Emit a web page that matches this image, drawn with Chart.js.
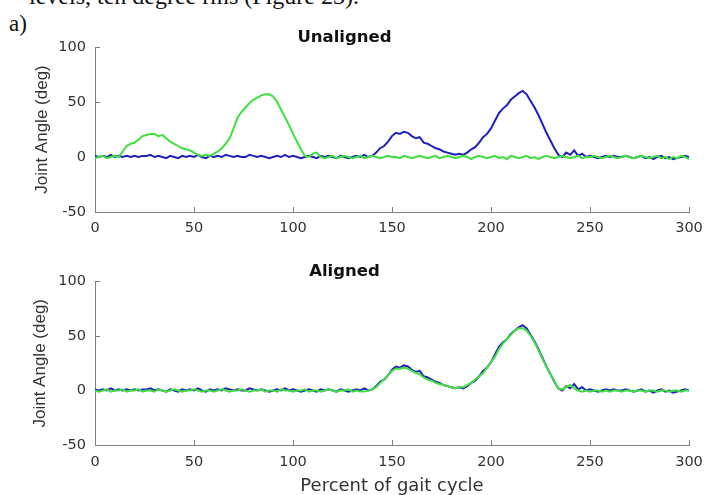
<!DOCTYPE html>
<html lang="en">
<head>
<meta charset="UTF-8">
<title>Joint angle over the gait cycle</title>
<script src="https://cdn.jsdelivr.net/npm/chart.js"></script>
<style>
  body {
    margin: 0;
    width: 705px;
    height: 495px;
    overflow: hidden;
    background: #fff;
    position: relative;
  }
  .caption {
    position: absolute;
    left: 29px;
    top: -16px;
    font: 24px 'Liberation Serif', serif;
    line-height: 24px;
    color: #111;
    white-space: nowrap;
  }
  .tag {
    position: absolute;
    left: 9px;
    top: 12px;
    font: 23px 'Liberation Serif', serif;
    line-height: 23px;
    color: #111;
  }
  canvas { position: absolute; left: 0; }
</style>
</head>
<body>

<div class="caption">levels, ten degree rms (Figure 23).</div>
<div class="tag">a)</div>
<canvas id="unaligned" width="705" height="240" style="top:0"></canvas>
<canvas id="aligned" width="705" height="258" style="top:240px"></canvas>

<script>
  // one sample every 2 % of the gait cycle, 0..300
  const STEP = 2;

  // trial 1 (blue) - same trace in both panels
  const blueTrial = [
    1, 0, 1, 0, 2, 0, 1, 0, 1, 0,
    1, 0, 1, 1, 2, 0, 1, 0, -1, 1,
    0, -1, 1, 0, 1, 0, 2, 0, -1, 1,
    0, 1, 0, 2, 1, 0, 1, 0, 0, 2,
    1, 0, 1, 0, -1, 0, 1, 0, 2, 0,
    1, 0, -1, 0, 1, 0, -1, 1, 0, 1,
    0, -1, 1, 0, -1, 0, 1, 0, 2, 0,
    1, 4, 8, 10, 14, 19, 22, 21, 23, 22,
    19, 17, 18, 13, 12, 10, 8, 7, 5, 4,
    3, 2, 3, 2, 4, 7, 9, 13, 18, 21,
    26, 33, 40, 44, 47, 52, 55, 58, 60, 57,
    51, 45, 38, 30, 22, 15, 8, 2, 0, 4,
    2, 6, 1, 3, 0, 1, 0, -1, 0, 1,
    0, 1, 0, 0, 1, 0, -1, 0, 1, -1,
    0, -2, 0, 1, -1, 0, -2, -1, 0, 1,
    0
  ];

  // trial 2 (green) before alignment
  const greenUnaligned = [
    -1, 0, 1, -1, 0, 1, 0, 5, 10, 12,
    13, 16, 19, 20, 21, 21, 19, 20, 17, 14,
    12, 10, 8, 7, 6, 4, 2, 1, 2, 1,
    3, 5, 8, 12, 17, 26, 36, 41, 45, 49,
    52, 54, 56, 57, 57, 55, 50, 43, 36, 29,
    21, 14, 7, 1, 0, 3, 4, 0, -1, 0,
    1, -1, 0, 1, 0, -1, 0, 1, -1, 0,
    1, 0, -1, 0, 1, 0, 0, -1, 1, 0,
    -1, 0, 1, 0, -1, 0, 1, -1, 0, 1,
    0, -1, 0, 1, 0, -2, 0, 1, 0, -1,
    0, 1, -1, 0, -2, 1, 0, -1, 0, 1,
    -1, 0, -2, 0, 1, 0, -1, 0, 1, 0,
    -1, 0, 1, -1, 0, 0, 1, 0, -1, 0,
    1, 0, -1, 0, 1, 0, -1, 0, 1, 0,
    -1, 0, 1, -1, 0, -2, 0, -1, 1, 0,
    -2
  ];

  // trial 2 (green) after alignment
  const greenAligned = [
    0, -1, 0, 1, -1, 0, 0, 1, -1, 0,
    0, 1, -1, 0, 0, -1, 1, 0, -1, 0,
    1, 0, -1, 0, 0, 1, 0, -1, 0, 0,
    -1, 0, 1, 0, -1, 0, 0, 1, 0, -1,
    0, 0, 1, -1, 0, 0, -1, 1, 0, 0,
    -1, 0, 0, 1, -1, 0, 0, -1, 0, 1,
    0, -1, 0, 0, 1, -1, 0, -1, -1, 0,
    1, 3, 7, 10, 14, 18, 20, 20, 21, 20,
    18, 16, 15, 12, 10, 9, 7, 6, 5, 4,
    3, 2, 3, 3, 5, 7, 10, 13, 16, 21,
    26, 31, 38, 43, 47, 51, 55, 57, 57, 55,
    50, 44, 37, 29, 22, 15, 8, 2, 1, 3,
    5, 2, 0, -1, 0, -1, 0, 0, -1, 0,
    -1, 0, 0, -1, 0, 0, -1, 0, 0, -1,
    0, 0, -1, 0, 0, -1, 0, 0, -1, 0,
    0
  ];

  const xTicks = [0, 50, 100, 150, 200, 250, 300];
  const yTicks = [-50, 0, 50, 100];

  const BLUE = '#1f1fbf';
  const GREEN = '#3fdf3f';
  const AXIS = '#808080';
  const TEXT = '#333';

  const toPoints = vals => vals.map((v, i) => ({ x: i * STEP, y: v }));

  function drawPanel(id, cfg) {
    const tickFont = { family: 'DejaVu Sans', size: 14.5 };
    new Chart(document.getElementById(id), {
      type: 'line',
      data: {
        datasets: [
          // green is drawn over blue
          { data: toPoints(cfg.blue), borderColor: BLUE, borderWidth: 2, pointRadius: 0, tension: 0, order: 1 },
          { data: toPoints(cfg.green), borderColor: GREEN, borderWidth: 2, pointRadius: 0, tension: 0, order: 0 }
        ]
      },
      options: {
        responsive: false,
        animation: false,
        layout: { padding: { left: 0, right: 16, top: 0, bottom: 0 } },
        plugins: {
          legend: { display: false },
          tooltip: { enabled: false },
          title: {
            display: true,
            text: cfg.title,
            color: '#111',
            font: { family: 'DejaVu Sans', size: 16.5, weight: 'bold', lineHeight: 1 },
            padding: cfg.titlePad
          }
        },
        scales: {
          x: {
            type: 'linear',
            min: xTicks[0],
            max: xTicks[xTicks.length - 1],
            afterBuildTicks: s => { s.ticks = xTicks.map(v => ({ value: v })); },
            afterFit: s => {
              s.height = cfg.xHeight;
              s.paddingLeft = 0;
              s.paddingRight = 0;
            },
            ticks: { padding: cfg.xTickPad, color: TEXT, font: tickFont, maxRotation: 0 },
            grid: { drawOnChartArea: false, tickLength: -5, color: AXIS },
            border: { color: AXIS },
            title: {
              display: !!cfg.xTitle,
              text: cfg.xTitle || '',
              color: TEXT,
              font: { family: 'DejaVu Sans', size: 18 },
              padding: { top: 0, bottom: 0.5 }
            }
          },
          y: {
            min: yTicks[0],
            max: yTicks[yTicks.length - 1],
            afterBuildTicks: s => { s.ticks = yTicks.map(v => ({ value: v })); },
            afterFit: s => { s.width = 95; },
            ticks: { padding: 14, color: TEXT, font: tickFont },
            grid: { drawOnChartArea: false, tickLength: -5, color: AXIS },
            border: { color: AXIS },
            title: {
              display: true,
              text: 'Joint Angle (deg)',
              color: TEXT,
              font: { family: 'Liberation Sans', size: 17 },
              padding: { top: cfg.yTitlePad, bottom: 0 }
            }
          }
        }
      }
    });
  }

  drawPanel('unaligned', {
    title: 'Unaligned',
    titlePad: { top: 29.5, bottom: 1 },
    xHeight: 28,
    xTickPad: 12.3,
    yTitlePad: 32,
    blue: blueTrial,
    green: greenUnaligned
  });

  drawPanel('aligned', {
    title: 'Aligned',
    titlePad: { top: 23.5, bottom: 1.5 },
    xHeight: 53,
    xTickPad: 13.3,
    xTitle: 'Percent of gait cycle',
    yTitlePad: 30,
    blue: blueTrial,
    green: greenAligned
  });
</script>

</body>
</html>
